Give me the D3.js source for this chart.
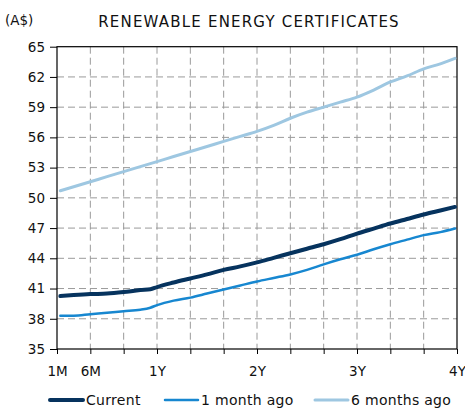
<!DOCTYPE html>
<html>
<head>
<meta charset="utf-8">
<script src="https://cdn.jsdelivr.net/npm/d3@7"></script>
<style>
  body { margin: 0; background: #fff; }
  svg { display: block; font-family: "DejaVu Sans", Verdana, sans-serif; }
</style>
</head>
<body>
<svg id="chart" width="465" height="409"></svg>
<script>
var w = 465;
var h = 409;
var margin = { top: 46.7, right: 5, bottom: 59, left: 57 };

// x positions are tick slots (each slot = 4 months, 1M at slot 0)
var tickSlots = [0, 1, 2, 3, 4, 5, 6, 7, 8, 9, 10, 11, 12];
var tickLabels = { 0: "1M", 1: "6M", 3: "1Y", 6: "2Y", 9: "3Y", 12: "4Y" };
var yTicks = [35, 38, 41, 44, 47, 50, 53, 56, 59, 62, 65];

var slots = [0.1, 0.5, 1, 1.5, 2, 2.5, 2.8, 3, 3.5, 4, 4.5, 5, 5.5, 6, 6.5, 7, 7.5, 8, 8.5, 9, 9.5, 10, 10.5, 11, 11.5, 11.94];
var current = [40.25, 40.35, 40.45, 40.5, 40.65, 40.85, 40.92, 41.15, 41.6, 42.0, 42.4, 42.85, 43.2, 43.6, 44.05, 44.5, 44.95, 45.4, 45.9, 46.45, 46.95, 47.45, 47.9, 48.35, 48.75, 49.1];
var monthAgo = [38.3, 38.3, 38.45, 38.6, 38.75, 38.9, 39.1, 39.35, 39.8, 40.1, 40.5, 40.9, 41.3, 41.7, 42.05, 42.4, 42.85, 43.4, 43.9, 44.35, 44.9, 45.4, 45.85, 46.3, 46.6, 46.95];
var sixMonthsAgo = [50.7, 51.1, 51.6, 52.1, 52.6, 53.1, 53.4, 53.6, 54.1, 54.6, 55.1, 55.6, 56.1, 56.6, 57.2, 57.9, 58.5, 59.0, 59.5, 60.0, 60.7, 61.5, 62.1, 62.8, 63.3, 63.85];

var series = [
  { name: "6 months ago", values: sixMonthsAgo, color: "#9ec7e1", width: 3 },
  { name: "1 month ago", values: monthAgo, color: "#1787d0", width: 2.5 },
  { name: "Current", values: current, color: "#06335e", width: 4 }
];

var svg = d3.select("#chart");

var xScale = d3.scaleLinear()
  .domain([0, 12])
  .range([margin.left, w - margin.right - 3]);

var yScale = d3.scaleLinear()
  .domain([35, 65])
  .range([h - margin.bottom - 1, margin.top]);

// grid
svg.append("g")
  .selectAll("line")
  .data(yTicks.slice(1, -1))
  .enter()
  .append("line")
  .attr("x1", xScale(0))
  .attr("x2", xScale(12))
  .attr("y1", function(d) { return yScale(d); })
  .attr("y2", function(d) { return yScale(d); })
  .attr("stroke", "#9a9a9a")
  .attr("stroke-dasharray", "7,4");

svg.append("g")
  .selectAll("line")
  .data(tickSlots.slice(1, -1))
  .enter()
  .append("line")
  .attr("x1", function(d) { return xScale(d); })
  .attr("x2", function(d) { return xScale(d); })
  .attr("y1", yScale(65))
  .attr("y2", yScale(35))
  .attr("stroke", "#9a9a9a")
  .attr("stroke-dasharray", "7,4");

// frame
svg.append("rect")
  .attr("x", xScale(0))
  .attr("y", yScale(65))
  .attr("width", xScale(12) - xScale(0))
  .attr("height", yScale(35) - yScale(65))
  .attr("fill", "none")
  .attr("stroke", "#000")
  .attr("stroke-width", 1.2);

// axes
var yAxis = svg.append("g")
  .attr("transform", "translate(" + xScale(0) + ",0)")
  .call(d3.axisLeft(yScale).tickValues(yTicks).tickSize(7).tickPadding(5));

var xAxis = svg.append("g")
  .attr("transform", "translate(0," + yScale(35) + ")")
  .call(d3.axisBottom(xScale)
    .tickValues(tickSlots)
    .tickSize(5)
    .tickPadding(12)
    .tickFormat(function(d) { return tickLabels[d] || ""; }));

[yAxis, xAxis].forEach(function(a) {
  a.select(".domain").remove();
  a.selectAll("line").attr("stroke", "#000");
  a.selectAll("text")
    .style("font-family", "'DejaVu Sans', Verdana, sans-serif")
    .style("font-size", "13.5px")
    .attr("fill", "#111");
});

// lines
var line = d3.line()
  .curve(d3.curveMonotoneX)
  .x(function(d, i) { return xScale(slots[i]); })
  .y(function(d) { return yScale(d); });

svg.append("g")
  .selectAll("path")
  .data(series)
  .enter()
  .append("path")
  .attr("d", function(d) { return line(d.values); })
  .attr("fill", "none")
  .attr("stroke", function(d) { return d.color; })
  .attr("stroke-width", function(d) { return d.width; })
  .attr("stroke-linejoin", "round")
  .attr("stroke-linecap", "round");

// title and unit
svg.append("text")
  .attr("x", 249)
  .attr("y", 27)
  .attr("text-anchor", "middle")
  .style("font-size", "15px")
  .style("letter-spacing", "1.2px")
  .attr("fill", "#111")
  .text("RENEWABLE ENERGY CERTIFICATES");

svg.append("text")
  .attr("x", 5)
  .attr("y", 25)
  .style("font-size", "13.5px")
  .attr("fill", "#111")
  .text("(A$)");

// legend
var legendItems = [
  { name: "Current", color: "#06335e", width: 4, x: 50 },
  { name: "1 month ago", color: "#1787d0", width: 2.5, x: 165 },
  { name: "6 months ago", color: "#9ec7e1", width: 3, x: 315 }
];

var legend = svg.append("g")
  .selectAll("g")
  .data(legendItems)
  .enter()
  .append("g")
  .attr("transform", function(d) { return "translate(" + d.x + ",400)"; });

legend.append("line")
  .attr("x1", 0)
  .attr("x2", 33)
  .attr("stroke", function(d) { return d.color; })
  .attr("stroke-width", function(d) { return d.width; })
  .attr("stroke-linecap", "round");

legend.append("text")
  .attr("x", 36)
  .attr("y", 5)
  .style("font-size", "14px")
  .style("letter-spacing", "0.3px")
  .attr("fill", "#111")
  .text(function(d) { return d.name; });
</script>
</body>
</html>
